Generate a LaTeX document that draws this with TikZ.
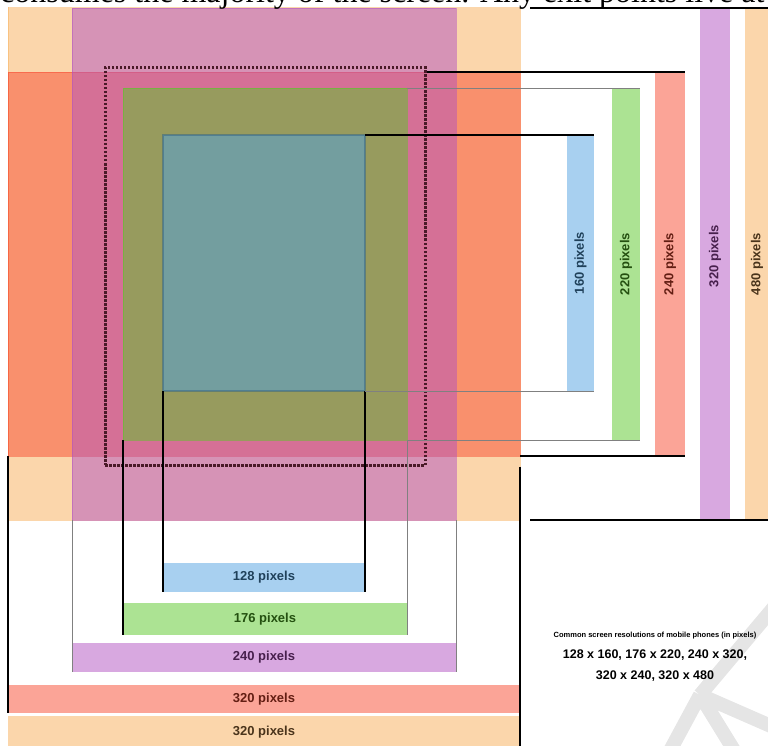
\documentclass[tikz,border=0pt]{standalone}
\usepackage{fontspec}
\setmainfont{Liberation Serif}
\setsansfont{Liberation Sans}
\usepackage{graphicx}
\usepackage{tikz}
\usetikzlibrary{positioning,calc}
\definecolor{ScrOrange}{HTML}{F7AE58}
\definecolor{ScrRed}{HTML}{F84A30}
\definecolor{ScrPurple}{HTML}{B151C1}
\definecolor{ScrGreen}{HTML}{5AC828}
\definecolor{ScrBlue}{HTML}{51A1E1}
\definecolor{FrameDark}{HTML}{4A1A28}

\begin{document}
\begin{tikzpicture}[x=1pt, y=-1pt,
    screen/.style={rectangle, inner sep=0pt, outer sep=0pt, fill opacity=0.5, draw opacity=0.5, line width=0.6pt},
    sizebar/.style={rectangle, inner sep=0pt, outer sep=0pt, fill opacity=0.5, text opacity=1, font=\sffamily\bfseries\fontsize{13}{15}\selectfont},
    dimline/.style={draw=black, line width=1.5pt},
    dimthin/.style={draw=black!50, line width=0.9pt}
  ]
    \useasboundingbox (0,0) rectangle (768,746);
    \clip (0,0) rectangle (768,746);

    % screens, drawn to scale
    \node[screen, fill=ScrOrange, draw=ScrOrange, minimum width=512pt, minimum height=768pt] (scr480) at (264,136) {};
    \node[screen, fill=ScrRed, draw=ScrRed, minimum width=512pt, minimum height=384pt] (scr240) at (264,264) {};
    \node[screen, fill=ScrPurple, draw=ScrPurple, minimum width=384pt, minimum height=512pt] (scr320) at (264,264) {};
    \node[screen, fill=ScrGreen, draw=ScrGreen, minimum width=284pt, minimum height=352pt] (scr220) at (265,264) {};
    \node[screen, fill=ScrBlue, draw=ScrBlue!60!black, line width=1.5pt, minimum width=202pt, minimum height=256pt] (scr160) at (264,263) {};
    \node[rectangle, inner sep=0pt, draw=FrameDark, line width=3pt, dash pattern=on 2.5pt off 1.5pt, minimum width=320pt, minimum height=397pt] (frame) at (265,266.5) {};

    % widths
    \node[sizebar, fill=ScrBlue, text=ScrBlue!40!black, minimum width=202pt, minimum height=29pt] (bw128) at (264,577.5) {128 pixels};
    \node[sizebar, fill=ScrGreen, text=ScrGreen!40!black, minimum width=284pt, minimum height=32pt] (bw176) at (265,619) {176 pixels};
    \node[sizebar, fill=ScrPurple, text=ScrPurple!40!black, minimum width=384pt, minimum height=29pt] (bw240) at (264,657.5) {240 pixels};
    \node[sizebar, fill=ScrRed, text=ScrRed!40!black, minimum width=512pt, minimum height=28pt] (bw320r) at (264,699) {320 pixels};
    \node[sizebar, fill=ScrOrange, text=ScrOrange!30!black, minimum width=512pt, minimum height=32pt] (bw320o) at (264,732) {320 pixels};

    % heights
    \node[sizebar, fill=ScrBlue, text=ScrBlue!40!black, minimum width=27pt, minimum height=256pt] (bh160) at (580.5,263) {\rotatebox{90}{160 pixels}};
    \node[sizebar, fill=ScrGreen, text=ScrGreen!40!black, minimum width=28pt, minimum height=352pt] (bh220) at (626,264) {\rotatebox{90}{220 pixels}};
    \node[sizebar, fill=ScrRed, text=ScrRed!40!black, minimum width=30pt, minimum height=384pt] (bh240) at (670,264) {\rotatebox{90}{240 pixels}};
    \node[sizebar, fill=ScrPurple, text=ScrPurple!40!black, minimum width=30pt, minimum height=528pt] (bh320) at (715,256) {\rotatebox{90}{320 pixels}};
    \node[sizebar, fill=ScrOrange, minimum width=30pt, minimum height=768pt] (bh480) at (760,136) {};
    \node[font=\sffamily\bfseries\fontsize{13}{15}\selectfont, text=ScrOrange!30!black, rotate=90] (lh480) at (757,264) {480 pixels};

    \draw[dimline] (scr160.south west) -- (bw128.south west);
    \draw[dimline] (scr160.south east) -- (bw128.south east);
    \draw[dimline] (scr220.south west) -- (bw176.south west);
    \draw[dimthin] (scr220.south east) -- (bw176.south east);
    \draw[dimthin] (scr320.south west) -- (bw240.south west);
    \draw[dimthin] (scr320.south east) -- (bw240.south east);
    \draw[dimline] (scr240.south west) -- (bw320r.south west);
    \draw[dimline] (frame.south -| scr480.south east) -- (bw320o.south east);

    \draw[dimline] (scr160.north east) -- (bh160.north east);
    \draw[dimthin] (scr160.south east) -- (bh160.south east);
    \draw[dimthin] (scr220.north east) -- (bh220.north east);
    \draw[dimthin] (scr220.south east) -- (bh220.south east);
    \draw[dimline] (frame.north east |- scr240.north) -- (bh240.north east);
    \draw[dimline] (scr240.south east) -- (bh240.south east);
    \draw[dimline] ([xshift=10pt]scr480.east |- scr320.north) -- (bh480.east |- scr320.north);
    \draw[dimline] ([xshift=10pt]scr480.south east) -- (bh480.east |- scr480.south);

    % caption and watermark
    \draw[gray!20, line width=14pt] (700,695) -- (780,600) (700,695) -- (780,730) (700,695) -- (665,760) (700,695) -- (740,760);
    \node[font=\sffamily\bfseries\fontsize{12.5}{21}\selectfont, align=center] (caption) at (655,657) {{\fontsize{7.5}{9}\selectfont Common screen resolutions of mobile phones (in pixels)}\\128 x 160, 176 x 220, 240 x 320,\\320 x 240, 320 x 480};

    % cut-off line of text above
    \fill[white] (0,0) rectangle (768,7);
    \node[anchor=base west, inner sep=0pt, font=\fontsize{32}{36}\selectfont] (toptext) at (0,3) {consumes the majority of the screen. Any exit points live at};
\end{tikzpicture}
\end{document}
